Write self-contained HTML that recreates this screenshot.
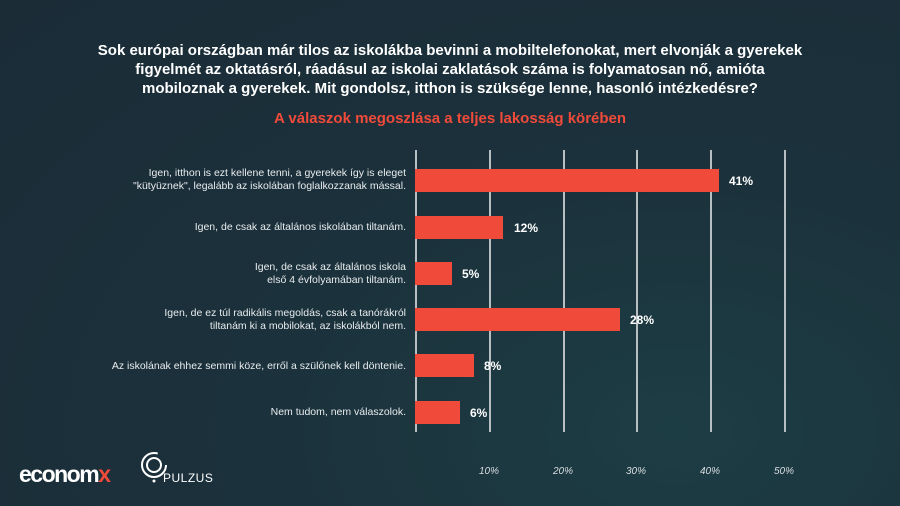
<!DOCTYPE html>
<html><head><meta charset="utf-8"><style>
body{margin:0;width:900px;height:506px;overflow:hidden;font-family:"Liberation Sans",sans-serif;
background:radial-gradient(ellipse at 75% 85%,#1d3d44 0%,#1b313b 45%,#1b2c37 100%);position:relative;color:#fff}
.t{position:absolute;left:0;width:900px;text-align:center;font-weight:bold}
.g{position:absolute;top:150px;height:282px;width:1.5px;background:#b8bfc2}
.b{position:absolute;left:415px;height:23px;background:#f04a3a}
.v{position:absolute;font-weight:bold;font-size:12px}
.l{position:absolute;right:494px;text-align:right;font-size:10.5px;line-height:13px;color:#e8ecee}
.ax{position:absolute;top:466px;font-size:10px;font-style:italic;color:#d8dde0;width:40px;text-align:center}
</style></head><body>
<div class="t" style="top:41px;font-size:15px;line-height:19px">Sok európai országban már tilos az iskolákba bevinni a mobiltelefonokat, mert elvonják a gyerekek<br>figyelmét az oktatásról, ráadásul az iskolai zaklatások száma is folyamatosan nő, amióta<br>mobiloznak a gyerekek. Mit gondolsz, itthon is szüksége lenne, hasonló intézkedésre?</div>
<div class="t" style="top:110px;font-size:15px;color:#f04a3a">A válaszok megoszlása a teljes lakosság körében</div>
<div class="g" style="left:415px"></div><div class="g" style="left:489px"></div><div class="g" style="left:563px"></div><div class="g" style="left:636px"></div><div class="g" style="left:710px"></div><div class="g" style="left:784px"></div>
<div class="b" style="top:169px;width:304px"></div><div class="v" style="left:729px;top:174px">41%</div>
<div class="b" style="top:216px;width:88px"></div><div class="v" style="left:514px;top:221px">12%</div>
<div class="b" style="top:262px;width:37px"></div><div class="v" style="left:462px;top:267px">5%</div>
<div class="b" style="top:308px;width:205px"></div><div class="v" style="left:630px;top:313px">28%</div>
<div class="b" style="top:354px;width:59px"></div><div class="v" style="left:484px;top:359px">8%</div>
<div class="b" style="top:401px;width:45px"></div><div class="v" style="left:470px;top:406px">6%</div>
<div class="l" style="top:167px">Igen, itthon is ezt kellene tenni, a gyerekek így is eleget<br>"kütyüznek", legalább az iskolában foglalkozzanak mással.</div>
<div class="l" style="top:221px">Igen, de csak az általános iskolában tiltanám.</div>
<div class="l" style="top:261px">Igen, de csak az általános iskola<br>első 4 évfolyamában tiltanám.</div>
<div class="l" style="top:307px">Igen, de ez túl radikális megoldás, csak a tanórákról<br>tiltanám ki a mobilokat, az iskolákból nem.</div>
<div class="l" style="top:360px">Az iskolának ehhez semmi köze, erről a szülőnek kell döntenie.</div>
<div class="l" style="top:406px">Nem tudom, nem válaszolok.</div>
<div class="ax" style="left:469px">10%</div><div class="ax" style="left:543px">20%</div><div class="ax" style="left:616px">30%</div><div class="ax" style="left:690px">40%</div><div class="ax" style="left:764px">50%</div>
<div style="position:absolute;left:19px;top:461px;font-size:23px;font-weight:bold;letter-spacing:-1.5px">econom<span style="color:#f04a3a">x</span></div>
<svg style="position:absolute;left:139px;top:450px" width="30" height="36"><circle cx="15" cy="15" r="12" fill="none" stroke="#fff" stroke-width="2" stroke-dasharray="60 15"/><circle cx="15" cy="15" r="7" fill="none" stroke="#fff" stroke-width="2"/><circle cx="15" cy="31" r="1.5" fill="#fff"/></svg>
<div style="position:absolute;left:163px;top:471px;font-size:12px;letter-spacing:0.5px">PULZUS</div>
</body></html>
